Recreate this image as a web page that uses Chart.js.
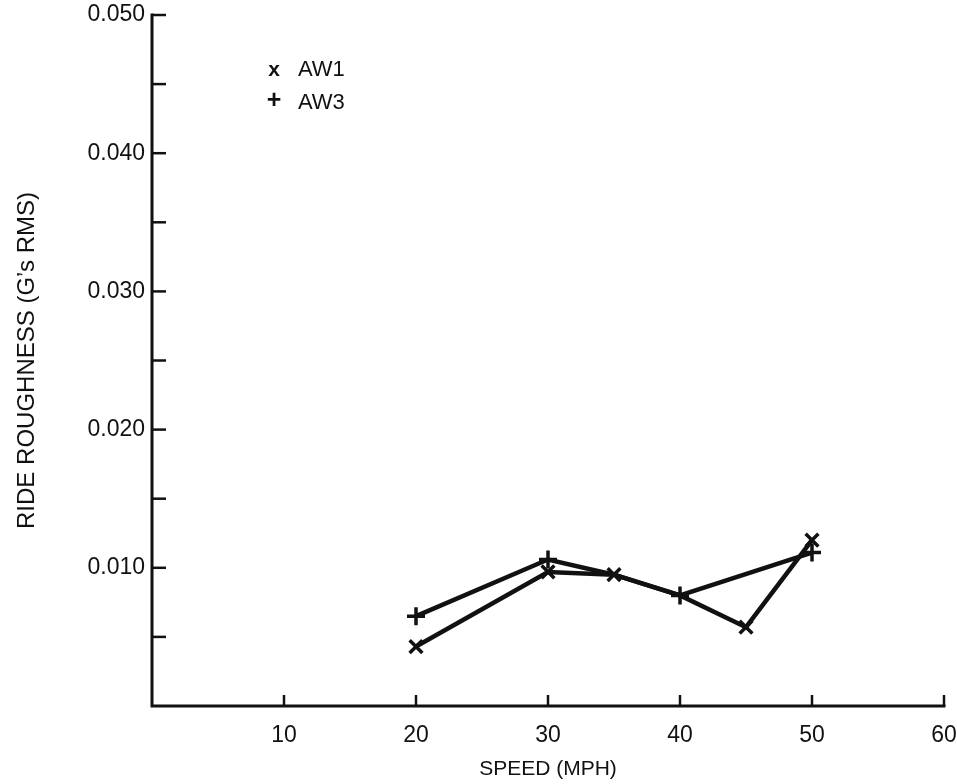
<!DOCTYPE html>
<html>
<head>
<meta charset="utf-8">
<script src="https://cdn.jsdelivr.net/npm/chart.js@4"></script>
<style>
    html, body { margin: 0; padding: 0; background: #fff; }
    #wrap { width: 957px; height: 784px; }
</style>
</head>
<body>
<div id="wrap"><canvas id="rough"></canvas></div>
<script>
// Скорость (миль/ч) и шероховатость хода (g RMS)
const aw1Speed = [20, 30, 35, 40, 45, 50];
const aw1Rms = [0.0043, 0.0097, 0.0095, 0.0080, 0.0057, 0.0120];
const aw3Speed = [20, 30, 35, 40, 50];
const aw3Rms = [0.0065, 0.0106, 0.0095, 0.0080, 0.0111];

// общие точки, где значок второй серии не ставится
const aw1NoMark = [40];
const aw3NoMark = [35];

const xTickLabels = [10, 20, 30, 40, 50, 60];
const yTickLabels = [0.010, 0.020, 0.030, 0.040, 0.050];
const yMinorTicks = [0.005, 0.015, 0.025, 0.035, 0.045];

const FONT = "'Liberation Sans', Arial, sans-serif";
const INK = '#111';

function toPoints(xs, ys) {
    return xs.map((x, i) => ({ x: x, y: ys[i] }));
}

function markRadius(skip) {
    return c => (c.raw && skip.includes(c.raw.x)) ? 0 : 9;
}

// Оси, внутренние засечки и легенда рисуются вручную
const axesPlugin = {
    id: 'axesPlugin',
    afterDraw(chart) {
        const ctx = chart.ctx;
        const xs = chart.scales.x;
        const ys = chart.scales.y;
        const x0 = xs.getPixelForValue(0);
        const y0 = ys.getPixelForValue(0);

        ctx.save();
        ctx.strokeStyle = INK;
        ctx.lineCap = 'square';

        ctx.lineWidth = 3;
        ctx.beginPath();
        ctx.moveTo(x0, ys.getPixelForValue(0.050));
        ctx.lineTo(x0, y0);
        ctx.lineTo(xs.getPixelForValue(60), y0);
        ctx.stroke();

        ctx.lineWidth = 2.5;
        ctx.lineCap = 'butt';
        yTickLabels.concat(yMinorTicks).forEach(v => {
            const py = ys.getPixelForValue(v);
            ctx.beginPath();
            ctx.moveTo(x0, py);
            ctx.lineTo(x0 + 14, py);
            ctx.stroke();
        });
        xTickLabels.forEach(v => {
            const px = xs.getPixelForValue(v);
            ctx.beginPath();
            ctx.moveTo(px, y0);
            ctx.lineTo(px, y0 - 11);
            ctx.stroke();
        });

        // Легенда
        const lx = chart.chartArea.left + 122;
        const ly = chart.chartArea.top + 55;
        ctx.fillStyle = INK;
        ctx.textBaseline = 'middle';
        ctx.textAlign = 'center';
        ctx.font = 'bold 21px ' + FONT;
        ctx.fillText('x', lx, ly);
        ctx.font = 'bold 25px ' + FONT;
        ctx.fillText('+', lx, ly + 31);
        ctx.textAlign = 'left';
        ctx.font = '22px ' + FONT;
        ctx.fillText('AW1', lx + 24, ly);
        ctx.fillText('AW3', lx + 24, ly + 33);
        ctx.restore();
    }
};

const ctx = document.getElementById('rough').getContext('2d');

new Chart(ctx, {
    type: 'line',
    data: {
        datasets: [{
            label: 'AW1',
            data: toPoints(aw1Speed, aw1Rms),
            borderColor: INK,
            borderWidth: 4.5,
            pointStyle: 'crossRot',
            pointRadius: markRadius(aw1NoMark),
            pointBorderWidth: 3.5,
            pointBorderColor: INK,
            tension: 0,
            fill: false
        }, {
            label: 'AW3',
            data: toPoints(aw3Speed, aw3Rms),
            borderColor: INK,
            borderWidth: 4.5,
            pointStyle: 'cross',
            pointRadius: markRadius(aw3NoMark),
            pointBorderWidth: 3.5,
            pointBorderColor: INK,
            tension: 0,
            fill: false
        }]
    },
    options: {
        responsive: true,
        maintainAspectRatio: false,
        animation: false,
        layout: {
            padding: { left: 0, top: 15, right: 13, bottom: 0 }
        },
        plugins: {
            legend: { display: false },
            tooltip: { enabled: false }
        },
        scales: {
            x: {
                type: 'linear',
                min: 0,
                max: 60,
                afterFit: scale => {
                    scale.height = 78;
                    scale.paddingLeft = 0;
                    scale.paddingRight = 0;
                },
                afterBuildTicks: scale => {
                    scale.ticks = xTickLabels.map(v => ({ value: v }));
                },
                grid: { display: false, drawTicks: false },
                border: { display: false },
                ticks: {
                    padding: 16,
                    color: INK,
                    font: { family: FONT, size: 23 },
                    maxRotation: 0,
                    autoSkip: false
                },
                title: {
                    display: true,
                    text: 'SPEED (MPH)',
                    color: INK,
                    font: { family: FONT, size: 21 },
                    padding: { top: 0, bottom: 2 }
                }
            },
            y: {
                type: 'linear',
                min: 0,
                max: 0.050,
                afterFit: scale => {
                    scale.width = 152;
                    scale.paddingTop = 0;
                    scale.paddingBottom = 0;
                },
                afterBuildTicks: scale => {
                    scale.ticks = yTickLabels.map(v => ({ value: v }));
                },
                grid: { display: false, drawTicks: false },
                border: { display: false },
                ticks: {
                    padding: 7,
                    color: INK,
                    font: { family: FONT, size: 23 },
                    autoSkip: false,
                    callback: v => v.toFixed(3)
                },
                title: {
                    display: true,
                    text: 'RIDE ROUGHNESS (G\u2019s RMS)',
                    color: INK,
                    font: { family: FONT, size: 24 },
                    padding: { top: 13, bottom: 0 }
                }
            }
        }
    },
    plugins: [axesPlugin]
});
</script>
</body>
</html>
